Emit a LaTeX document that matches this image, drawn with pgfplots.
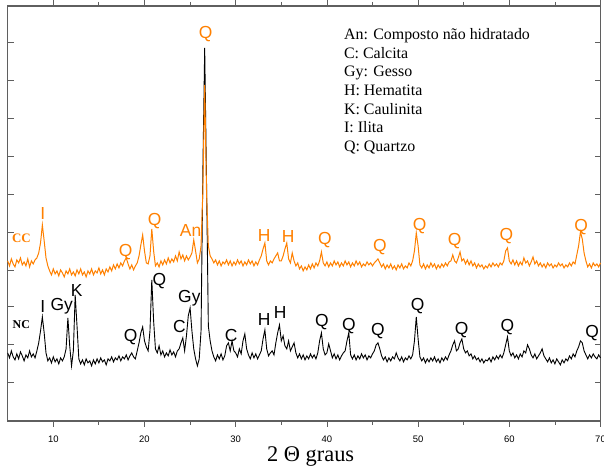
\documentclass[border=0pt]{standalone}
\usepackage{fontspec}
\setmainfont{Liberation Serif}
\newfontfamily\arial{Liberation Sans}
\usepackage{pgfplots}
\usepackage{pgfplotstable}
\pgfplotsset{compat=1.18}
\definecolor{ccorange}{RGB}{255,128,0}
\definecolor{axgray}{RGB}{95,95,95}

% 2theta, CC and NC intensities (arbitrary units)
\pgfplotstableread{
x cc nc
5.0 160 68
5.2 155 63
5.4 162 70
5.6 157 64
5.8 154 61
6.0 161 67
6.2 158 62
6.4 163 69
6.6 156 65
6.8 159 60
7.0 155 66
7.2 162 63
7.4 154 70
7.6 160 64
7.8 157 67
8.0 161 63
8.2 163 70
8.4 168 78
8.6 178 90
8.8 196 104
9.0 180 88
9.2 163 68
9.4 155 60
9.6 150 63
9.8 146 58
10.0 152 64
10.2 147 59
10.4 150 62
10.6 145 57
10.8 151 63
11.0 148 60
11.2 144 64
11.4 150 72
11.6 147 103
11.8 152 75
12.0 146 55
12.2 149 70
12.4 145 126
12.6 151 95
12.8 147 62
13.0 152 57
13.2 146 61
13.4 149 56
13.6 144 62
13.8 150 58
14.0 147 60
14.2 152 55
14.4 146 61
14.6 150 57
14.8 148 62
15.0 153 58
15.2 147 63
15.4 151 59
15.6 146 61
15.8 152 56
16.0 149 62
16.2 154 60
16.4 150 64
16.6 156 59
16.8 152 63
17.0 157 61
17.2 153 65
17.4 158 60
17.6 155 64
17.8 160 62
18.0 163 66
18.2 157 61
18.4 152 65
18.6 156 68
18.8 151 64
19.0 155 62
19.2 158 70
19.4 165 78
19.6 176 88
19.8 186 94
20.0 170 80
20.2 158 74
20.4 157 70
20.6 165 90
20.8 192 141
21.0 170 100
21.2 155 72
21.4 158 68
21.6 154 75
21.8 160 66
22.0 156 70
22.2 161 64
22.4 157 68
22.6 163 65
22.8 158 71
23.0 162 66
23.2 159 69
23.4 165 64
23.6 160 70
23.8 169 72
24.0 162 78
24.2 166 83
24.4 160 70
24.6 165 85
24.8 161 105
25.0 164 113
25.2 168 90
25.4 181 72
25.6 170 62
25.8 158 55
26.0 162 62
26.2 175 90
26.4 230 250
26.6 336 373
26.8 230 240
27.0 175 95
27.2 165 80
27.4 162 70
27.6 158 64
27.8 161 60
28.0 156 66
28.2 160 62
28.4 155 67
28.6 159 61
28.8 157 65
29.0 161 75
29.2 156 78
29.4 160 70
29.6 155 80
29.8 159 70
30.0 156 68
30.2 161 64
30.4 157 72
30.6 160 67
30.8 155 80
31.0 159 87
31.2 156 72
31.4 161 66
31.6 157 62
31.8 160 68
32.0 155 63
32.2 159 67
32.4 156 62
32.6 161 66
32.8 165 70
33.0 172 82
33.2 178 91
33.4 160 72
33.6 156 65
33.8 160 68
34.0 158 70
34.2 162 66
34.4 165 78
34.6 168 88
34.8 160 96
35.0 160 80
35.2 165 85
35.4 172 75
35.6 178 72
35.8 162 80
36.0 158 70
36.2 168 74
36.4 160 78
36.6 155 68
36.8 158 63
37.0 152 67
37.2 155 62
37.4 150 66
37.6 154 61
37.8 151 65
38.0 156 62
38.2 152 67
38.4 157 63
38.6 153 66
38.8 158 62
39.0 155 68
39.2 160 80
39.4 169 88
39.6 158 72
39.8 155 66
40.0 159 68
40.2 154 77
40.4 158 70
40.6 155 63
40.8 160 67
41.0 156 62
41.2 159 66
41.4 154 61
41.6 158 65
41.8 155 68
42.0 160 70
42.2 156 80
42.4 159 88
42.6 154 66
42.8 158 62
43.0 155 66
43.2 160 61
43.4 156 65
43.6 159 62
43.8 154 67
44.0 157 63
44.2 155 66
44.4 159 61
44.6 156 65
44.8 158 63
45.0 155 67
45.2 158 70
45.4 160 76
45.6 162 78
45.8 158 72
46.0 154 65
46.2 157 61
46.4 152 64
46.6 156 59
46.8 153 63
47.0 157 60
47.2 152 64
47.4 155 62
47.6 151 68
47.8 156 63
48.0 153 60
48.2 157 64
48.4 152 59
48.6 155 63
48.8 153 61
49.0 158 65
49.2 155 62
49.4 160 66
49.6 170 80
49.8 188 104
50.0 175 82
50.2 156 64
50.4 153 60
50.6 157 63
50.8 152 58
51.0 156 62
51.2 153 59
51.4 158 63
51.6 154 60
51.8 157 64
52.0 152 59
52.2 156 62
52.4 153 58
52.6 157 63
52.8 154 60
53.0 158 64
53.2 155 61
53.4 159 66
53.6 160 70
53.8 166 76
54.0 160 80
54.2 158 70
54.4 163 72
54.6 169 78
54.8 160 82
55.0 162 72
55.2 157 68
55.4 161 70
55.6 156 65
55.8 160 67
56.0 155 62
56.2 158 65
56.4 153 61
56.6 157 63
56.8 154 59
57.0 156 62
57.2 152 58
57.4 155 61
57.6 153 60
57.8 157 63
58.0 154 59
58.2 158 64
58.4 155 61
58.6 157 65
58.8 154 62
59.0 158 66
59.2 156 63
59.4 160 68
59.6 170 76
59.8 173 84
60.0 160 70
60.2 157 65
60.4 161 68
60.6 156 63
60.8 160 66
61.0 155 62
61.2 159 67
61.4 156 64
61.6 163 70
61.8 158 68
62.0 160 76
62.2 155 72
62.4 159 66
62.6 164 63
62.8 157 67
63.0 160 62
63.2 155 65
63.4 158 68
63.6 154 72
63.8 157 65
64.0 153 62
64.2 158 59
64.4 155 63
64.6 157 58
64.8 153 61
65.0 156 57
65.2 154 62
65.4 158 59
65.6 155 56
65.8 157 61
66.0 153 58
66.2 156 62
66.4 154 60
66.6 158 65
66.8 155 62
67.0 159 67
67.2 157 64
67.4 166 70
67.6 175 74
67.8 189 80
68.0 182 78
68.2 168 70
68.4 160 66
68.6 154 62
68.8 157 66
69.0 153 63
69.2 158 67
69.4 155 64
69.6 157 62
69.8 154 66
70.0 158 63
}\xrd

\begin{document}
\begin{tikzpicture}[
  lab/.style={font=\arial\fontsize{17.5}{17.5}\selectfont, inner sep=0pt, anchor=center},
  leg/.style={font=\fontsize{16}{16}\selectfont, inner sep=0pt, anchor=base west},
]
\begin{axis}[
  scale only axis, width=593bp, height=415bp,
  xmin=5, xmax=70, ymin=0, ymax=415,
  xtick={10,20,...,70}, minor xtick={15,25,...,65},
  ytick={38,76,114,151,189,227,265,303,341,379}, yticklabels={},
  xtick align=outside, ytick align=inside,
  major tick length=6bp, minor tick length=4bp,
  axis line style={axgray, line width=1.3bp},
  every tick/.style={axgray, line width=0.8bp},
  ticklabel style={font=\arial\fontsize{9.5}{11}\selectfont},
  xticklabel style={yshift=-6bp},
  /pgf/number format/assume math mode=true,
  clip=false,
]
\addplot[black, line width=0.9bp] table[x=x, y=nc]{\xrd};
\addplot[ccorange, line width=1bp] table[x=x, y=cc]{\xrd};

% CC peak labels
\node[font=\bfseries\fontsize{13}{13}\selectfont, text=ccorange] at (axis cs:6.5,183) {CC};
\node[lab, text=ccorange] at (axis cs:8.86,207) {I};
\node[lab, text=ccorange] at (axis cs:17.93,169) {Q};
\node[lab, text=ccorange] at (axis cs:21.1,200) {Q};
\node[lab, text=ccorange] at (axis cs:25.05,190) {An};
\node[lab, text=ccorange] at (axis cs:26.7,387) {Q};
\node[lab, text=ccorange] at (axis cs:33.12,185) {H};
\node[lab, text=ccorange] at (axis cs:35.74,184) {H};
\node[lab, text=ccorange] at (axis cs:39.79,181) {Q};
\node[lab, text=ccorange] at (axis cs:45.8,174) {Q};
\node[lab, text=ccorange] at (axis cs:50.17,195) {Q};
\node[lab, text=ccorange] at (axis cs:54.0,180) {Q};
\node[lab, text=ccorange] at (axis cs:59.68,185) {Q};
\node[lab, text=ccorange] at (axis cs:67.88,194) {Q};

% NC peak labels
\node[font=\bfseries\fontsize{12}{12}\selectfont] at (axis cs:6.5,96) {NC};
\node[lab] at (axis cs:8.86,114) {I};
\node[lab] at (axis cs:10.93,115) {Gy};
\node[lab] at (axis cs:12.57,130) {K};
\node[lab] at (axis cs:18.48,84) {Q};
\node[lab] at (axis cs:21.64,140) {Q};
\node[lab] at (axis cs:23.83,94) {C};
\node[lab] at (axis cs:24.92,123) {Gy};
\node[lab] at (axis cs:29.51,85) {C};
\node[lab] at (axis cs:33.12,101) {H};
\node[lab] at (axis cs:34.87,108) {H};
\node[lab] at (axis cs:39.46,99) {Q};
\node[lab] at (axis cs:42.41,95) {Q};
\node[lab] at (axis cs:45.58,90) {Q};
\node[lab] at (axis cs:49.95,115) {Q};
\node[lab] at (axis cs:54.77,91) {Q};
\node[lab] at (axis cs:59.79,94) {Q};
\node[lab] at (axis cs:69.08,88) {Q};

% key
\node[leg] at (axis cs:41.86,381) {An: Composto não hidratado};
\node[leg] at (axis cs:41.86,362) {C: Calcita};
\node[leg] at (axis cs:41.86,344) {Gy: Gesso};
\node[leg] at (axis cs:41.86,325) {H: Hematita};
\node[leg] at (axis cs:41.86,306) {K: Caulinita};
\node[leg] at (axis cs:41.86,288) {I: Ilita};
\node[leg] at (axis cs:41.86,269) {Q: Quartzo};

\node[anchor=base, inner sep=0pt, yshift=-41bp, font=\fontsize{22.5}{22.5}\selectfont] at (rel axis cs:0.511,0) {2 Θ graus};

\coordinate (ll) at (rel axis cs:0,0);
\coordinate (ur) at (rel axis cs:1,1);
\end{axis}
\pgfresetboundingbox
\path ([shift={(-7.7bp,-47bp)}]ll) rectangle ([shift={(3.5bp,6bp)}]ur);
\end{tikzpicture}
\end{document}
